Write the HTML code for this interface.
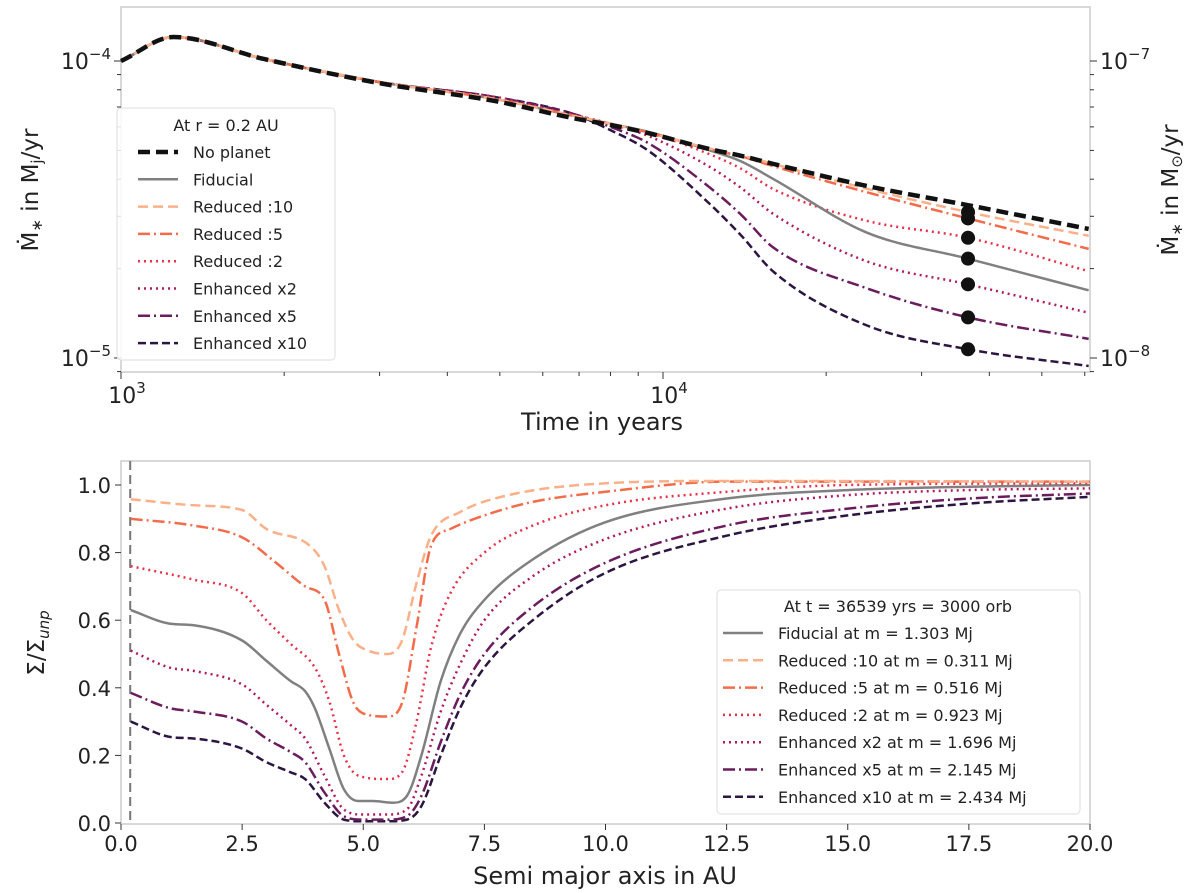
<!DOCTYPE html>
<html><head><meta charset="utf-8">
<style>
html,body{margin:0;padding:0;background:#fff;}
svg{display:block;font-family:"DejaVu Sans","Liberation Sans",sans-serif;}
</style></head>
<body>
<svg id="fig" width="1200" height="893" viewBox="0 0 1200 893" xmlns="http://www.w3.org/2000/svg">
<g id="topPanel"></g>
<g id="botPanel"></g>
</svg>
<script>
// ---------- Top panel data (values in 1e-5 Mj/yr) ----------
const times = [1000,1250,1835,2990,4900,6800,8000,9380,12200,13900,16000,23700,36539,61000];
const noPlanet =     [10,12.04,10.16,8.43,7.33,6.43,6.09,5.72,5.05,4.8,4.5,3.8,3.27,2.72];
const fiducialRate = [10,12.04,10.16,8.5,7.45,6.55,6.15,5.78,5.0,4.6,4.0,2.65,2.16,1.69];
const red10Rate =    [10,12.04,10.16,8.5,7.45,6.55,6.15,5.75,5.07,4.82,4.5,3.72,3.1,2.58];
const red5Rate =     [10,12.04,10.16,8.5,7.45,6.55,6.15,5.75,5.05,4.78,4.42,3.62,2.95,2.33];
const red2Rate =     [10,12.04,10.16,8.5,7.5,6.6,6.15,5.75,4.85,4.35,3.7,2.9,2.54,1.96];
const enh2Rate =     [10,12.04,10.16,8.5,7.56,6.6,6.15,5.6,4.4,3.75,3.05,2.12,1.77,1.42];
const enh5Rate =     [10,12.04,10.16,8.5,7.56,6.65,6.0,5.3,3.75,3.05,2.35,1.72,1.37,1.16];
const enh10Rate =    [10,12.04,10.16,8.5,7.56,6.65,5.85,5.0,3.3,2.6,1.95,1.29,1.07,0.94];
const dotTime = 36539;
const topYTicks = ["10","10"]; const topYExp = ["−4","−5"]; const topYTickVals=[1e-4,1e-5];
const rightYExp = ["−7","−8"];
const topXTickVals = [1000,10000]; const topXExp = ["3","4"];

// ---------- Bottom panel data ----------
const xRed10 = [0.2,1.5,2.5,3,3.9,4.2,4.5,4.8,5.1,5.5,5.8,6.1,6.4,7,8,10,12.5,20];
const red10 = [0.958,0.94,0.926,0.87,0.82,0.76,0.63,0.54,0.51,0.50,0.54,0.71,0.85,0.92,0.97,1.005,1.012,1.01];
const xRed5 = [0.2,1.5,2.5,3.2,3.8,4.2,4.5,4.8,5.1,5.5,5.8,6.1,6.4,6.8,7.5,8.5,10,12.5,20];
const red5 = [0.9,0.88,0.845,0.77,0.7,0.66,0.5,0.355,0.32,0.315,0.355,0.58,0.82,0.87,0.91,0.95,0.98,1.01,1.01];
const xRed2 = [0.2,1.5,2.5,3,3.5,4,4.3,4.6,4.9,5.5,5.8,6.1,6.4,6.8,7.5,8.5,10,12.5,15,20];
const red2 = [0.76,0.72,0.68,0.6,0.53,0.46,0.36,0.2,0.14,0.13,0.15,0.3,0.52,0.68,0.8,0.88,0.94,0.98,1.0,1.005];
const xFid = [0.2,1,1.5,2.5,3,3.5,3.8,4,4.3,4.6,4.9,5.2,5.6,5.9,6.2,6.6,7,7.5,8.5,10,12.5,15,17.5,20];
const fid = [0.63,0.59,0.585,0.54,0.48,0.42,0.39,0.34,0.22,0.1,0.065,0.065,0.06,0.08,0.2,0.42,0.56,0.66,0.78,0.89,0.96,0.985,0.995,1.0];
const xEnh = [0.2,1,1.5,2.5,3,3.5,3.8,4.2,4.6,5,5.5,5.9,6.2,6.6,7,7.5,8.5,10,12.5,15,17.5,20];
const enh2 = [0.51,0.46,0.45,0.41,0.35,0.29,0.25,0.14,0.04,0.025,0.025,0.04,0.14,0.33,0.47,0.6,0.73,0.84,0.93,0.97,0.985,0.99];
const enh5 = [0.385,0.34,0.33,0.3,0.25,0.21,0.18,0.09,0.02,0.01,0.01,0.02,0.08,0.24,0.38,0.5,0.64,0.77,0.88,0.93,0.96,0.975];
const enh10 = [0.3,0.255,0.25,0.22,0.18,0.15,0.13,0.06,0.01,0.005,0.005,0.01,0.05,0.2,0.34,0.46,0.6,0.74,0.85,0.91,0.945,0.965];
const botXTicks = ["0.0","2.5","5.0","7.5","10.0","12.5","15.0","17.5","20.0"];
const botYTicks = ["0.0","0.2","0.4","0.6","0.8","1.0"];

const NS="http://www.w3.org/2000/svg";
function mk(parent,tag,attrs,text){const e=document.createElementNS(NS,tag);for(const k in attrs)e.setAttribute(k,attrs[k]);if(text!==undefined)e.textContent=text;parent.appendChild(e);return e;}
function smooth(pts){const n=pts.length;const dx=[],s=[];for(let i=0;i<n-1;i++){dx.push(pts[i+1][0]-pts[i][0]);s.push((pts[i+1][1]-pts[i][1])/dx[i]);}
 const m=new Array(n);m[0]=s[0];m[n-1]=s[n-2];for(let i=1;i<n-1;i++){m[i]=(s[i-1]*s[i]<=0)?0:(s[i-1]+s[i])/2;}
 for(let i=0;i<n-1;i++){if(s[i]===0){m[i]=0;m[i+1]=0;continue;}const a=m[i]/s[i],b=m[i+1]/s[i];const h=a*a+b*b;if(h>9){const t=3/Math.sqrt(h);m[i]=t*a*s[i];m[i+1]=t*b*s[i];}}
 let d=`M${pts[0][0]},${pts[0][1]}`;for(let i=0;i<n-1;i++){const h=dx[i]/3;d+=` C${pts[i][0]+h},${pts[i][1]+m[i]*h} ${pts[i+1][0]-h},${pts[i+1][1]-m[i+1]*h} ${pts[i+1][0]},${pts[i+1][1]}`;}return d;}

const C={np:"#111",fid:"#808080",r10:"#fbb08a",r5:"#f26c4a",r2:"#e6324b",e2:"#b01a5e",e5:"#6a1c5d",e10:"#2c1641"};
const ST={np:{w:4.5,d:"12,6"},fid:{w:2.5,d:""},r10:{w:2.5,d:"10,5"},r5:{w:2.5,d:"12,4,2,4"},r2:{w:2.5,d:"2,4"},e2:{w:2.5,d:"2,4"},e5:{w:2.5,d:"12,4,2,4"},e10:{w:2.5,d:"8,4"}};

// ---------- Top panel ----------
const topG=document.getElementById('topPanel');
const TL=121,TR=1090,TT=7,TB=372;
const tx=t=>TL+(Math.log10(t)-3)*542;
const ty=v=>61+(-4-Math.log10(v))*297;
const fr=mk(topG,'rect',{x:TL,y:TT,width:TR-TL,height:TB-TT,fill:'none',stroke:'#ccc','stroke-width':1.5});

for(let d=3;d<=4;d++)for(let m=1;m<=9;m++){const t=m*Math.pow(10,d);const x=tx(t);if(x<TL-0.5||x>TR+0.5)continue;mk(topG,'line',{x1:x,x2:x,y1:TB,y2:TB+(m===1?7:4),stroke:'#333','stroke-width':1});}
for(let d=-6;d<=-4;d++)for(let m=1;m<=9;m++){const v=m*Math.pow(10,d);const y=ty(v);if(y<TT||y>TB)continue;mk(topG,'line',{x1:TL-(m===1?7:4),x2:TL,y1:y,y2:y,stroke:'#333','stroke-width':1});mk(topG,'line',{x1:TR,x2:TR+(m===1?7:4),y1:y,y2:y,stroke:'#333','stroke-width':1});}
topYTickVals.forEach((v,i)=>{const y=ty(v);
 const t=mk(topG,'text',{x:TL-10,y:y+8,'text-anchor':'end','font-size':22,fill:'#222'});
 mk(t,'tspan',{},topYTicks[i]);mk(t,'tspan',{dy:-10,'font-size':15},topYExp[i]);
 const r=mk(topG,'text',{x:TR+10,y:y+8,'font-size':22,fill:'#222'});
 mk(r,'tspan',{},"10");mk(r,'tspan',{dy:-10,'font-size':15},rightYExp[i]);});
topXTickVals.forEach((v,i)=>{const t=mk(topG,'text',{x:tx(v)+6,y:403,'text-anchor':'middle','font-size':22,fill:'#222'});mk(t,'tspan',{},"10");mk(t,'tspan',{dy:-10,'font-size':15},topXExp[i]);});
let a=mk(topG,'text',{x:602,y:430,'text-anchor':'middle','font-size':24,fill:'#222'},'Time in years');
a=mk(topG,'text',{x:0,y:0,'text-anchor':'middle','font-size':23,fill:'#222',transform:'translate(38,190) rotate(-90)'},'Ṁ');
mk(a,'tspan',{'font-size':15,dy:4},'∗');mk(a,'tspan',{dy:-4},' in M');mk(a,'tspan',{'font-size':15,dy:4},'j');mk(a,'tspan',{dy:-4},'/yr');
a=mk(topG,'text',{x:0,y:0,'text-anchor':'middle','font-size':23,fill:'#222',transform:'translate(1178,190) rotate(-90)'},'Ṁ');
mk(a,'tspan',{'font-size':15,dy:4},'∗');mk(a,'tspan',{dy:-4},' in M');mk(a,'tspan',{'font-size':15,dy:4},'⊙');mk(a,'tspan',{dy:-4},'/yr');
const topSeries=[['e10',enh10Rate,'enhanced-x10-rate-line'],['e5',enh5Rate,'enhanced-x5-rate-line'],['e2',enh2Rate,'enhanced-x2-rate-line'],['r2',red2Rate,'reduced-2-rate-line'],['fid',fiducialRate,'fiducial-rate-line'],['r5',red5Rate,'reduced-5-rate-line'],['r10',red10Rate,'reduced-10-rate-line'],['np',noPlanet,'no-planet-rate-line']];
const dotIdx=times.indexOf(dotTime);
topSeries.forEach(([k,vals,name])=>{const pts=times.map((t,i)=>[tx(t),ty(vals[i]*1e-5)]);
 const p=mk(topG,'path',{d:smooth(pts),fill:'none',stroke:C[k],'stroke-width':ST[k].w,'stroke-dasharray':ST[k].d});
 
 if(k!=='np'){const c=mk(topG,'circle',{cx:tx(dotTime),cy:ty(vals[dotIdx]*1e-5),r:7,fill:'#111'});}});
const lg=mk(topG,'g',{});
mk(lg,'rect',{x:117,y:108,width:218,height:252,rx:4,fill:'rgba(255,255,255,0.85)',stroke:'#ddd'});
mk(lg,'text',{x:226,y:131,'text-anchor':'middle','font-size':16,fill:'#222'},'At r = 0.2 AU');
const topLeg=[['np','No planet'],['fid','Fiducial'],['r10','Reduced :10'],['r5','Reduced :5'],['r2','Reduced :2'],['e2','Enhanced x2'],['e5','Enhanced x5'],['e10','Enhanced x10']];
topLeg.forEach(([k,lab],i)=>{const y=152+i*27.3;const g=mk(lg,'g',{});
 mk(g,'line',{x1:138,x2:178,y1:y,y2:y,stroke:C[k],'stroke-width':ST[k].w,'stroke-dasharray':ST[k].d});
 mk(g,'text',{x:193,y:y+6,'font-size':16,fill:'#222'},lab);});

// ---------- Bottom panel ----------
const botG=document.getElementById('botPanel');
const BL=121,BR=1090,BT=461,BB=824;
const bx=v=>BL+v*48.45;
const by=v=>823-v*338;
const fr2=mk(botG,'rect',{x:BL,y:BT,width:BR-BL,height:BB-BT,fill:'none',stroke:'#ccc','stroke-width':1.5});

botXTicks.forEach(s=>{const x=bx(parseFloat(s));mk(botG,'line',{x1:x,x2:x,y1:BB,y2:BB+6,stroke:'#333'});const t=mk(botG,'text',{x:x,y:851,'text-anchor':'middle','font-size':21,fill:'#222'},s);});
botYTicks.forEach(s=>{const y=by(parseFloat(s));mk(botG,'line',{x1:BL-6,x2:BL,y1:y,y2:y,stroke:'#333'});const t=mk(botG,'text',{x:BL-10,y:y+8,'text-anchor':'end','font-size':21,fill:'#222'},s);});
a=mk(botG,'text',{x:605,y:884,'text-anchor':'middle','font-size':24,fill:'#222'},'Semi major axis in AU');
a=mk(botG,'text',{x:0,y:0,'text-anchor':'middle','font-size':23,fill:'#222',transform:'translate(44,643) rotate(-90)'},'Σ/Σ');
mk(a,'tspan',{'font-size':15,dy:5,'font-style':'italic'},'unp');
const vl=mk(botG,'line',{x1:bx(0.19),x2:bx(0.19),y1:BT,y2:BB,stroke:'#777','stroke-width':2,'stroke-dasharray':'9,5'});
const botSeries=[['e10',xEnh,enh10,'enhanced-x10-profile'],['e5',xEnh,enh5,'enhanced-x5-profile'],['e2',xEnh,enh2,'enhanced-x2-profile'],['fid',xFid,fid,'fiducial-profile'],['r2',xRed2,red2,'reduced-2-profile'],['r5',xRed5,red5,'reduced-5-profile'],['r10',xRed10,red10,'reduced-10-profile']];
botSeries.forEach(([k,xs,ys,name])=>{const pts=xs.map((x,i)=>[bx(x),by(ys[i])]);const p=mk(botG,'path',{d:smooth(pts),fill:'none',stroke:C[k],'stroke-width':ST[k].w,'stroke-dasharray':ST[k].d});});
const lg2=mk(botG,'g',{});
mk(lg2,'rect',{x:717,y:590,width:363,height:224,rx:4,fill:'rgba(255,255,255,0.85)',stroke:'#ddd'});
mk(lg2,'text',{x:898,y:612,'text-anchor':'middle','font-size':16,fill:'#222'},'At t = 36539 yrs = 3000 orb');
const botLeg=[['fid','Fiducial at m = 1.303 Mj'],['r10','Reduced :10 at m = 0.311 Mj'],['r5','Reduced :5 at m = 0.516 Mj'],['r2','Reduced :2 at m = 0.923 Mj'],['e2','Enhanced x2 at m = 1.696 Mj'],['e5','Enhanced x5 at m = 2.145 Mj'],['e10','Enhanced x10 at m = 2.434 Mj']];
botLeg.forEach(([k,lab],i)=>{const y=633+i*27.3;const g=mk(lg2,'g',{});
 mk(g,'line',{x1:723,x2:763,y1:y,y2:y,stroke:C[k],'stroke-width':ST[k].w,'stroke-dasharray':ST[k].d});
 mk(g,'text',{x:778,y:y+6,'font-size':16,fill:'#222'},lab);});
</script>
</body></html>
